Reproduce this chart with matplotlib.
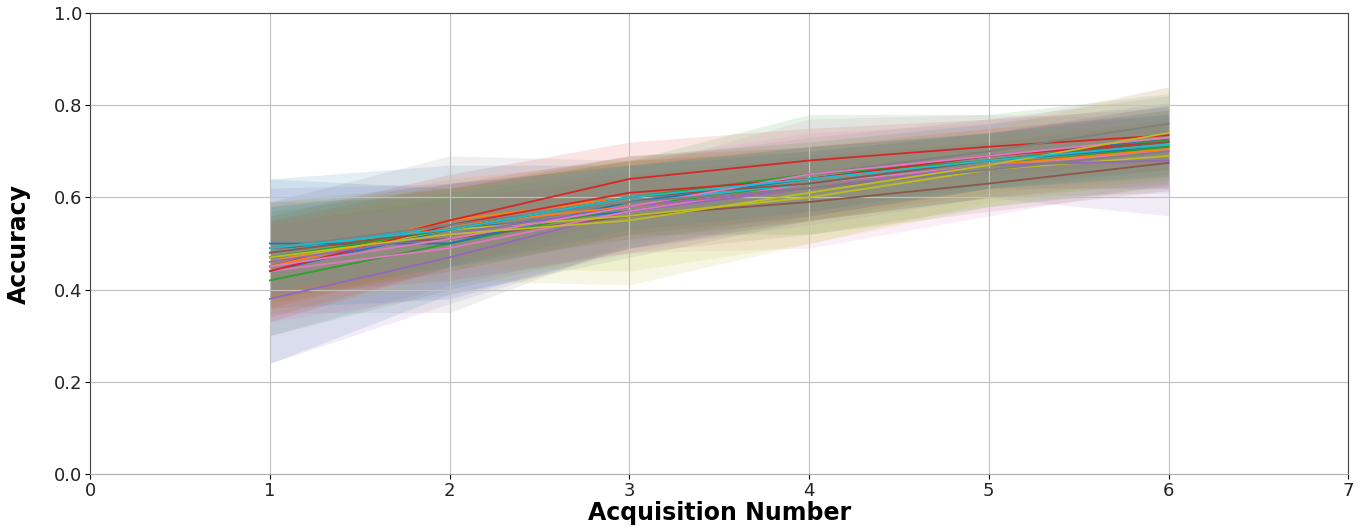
import matplotlib
matplotlib.use('Agg')
import matplotlib.pyplot as plt
import numpy as np

# acquisition steps
acq = [1, 2, 3, 4, 5, 6]

# mean accuracy per run (20 runs)
runs_mean = [
    [0.44, 0.53, 0.57, 0.63, 0.68, 0.71],
    [0.46, 0.55, 0.60, 0.64, 0.68, 0.72],
    [0.42, 0.50, 0.58, 0.63, 0.67, 0.71],
    [0.45, 0.55, 0.64, 0.68, 0.71, 0.735],
    [0.38, 0.47, 0.57, 0.62, 0.66, 0.69],
    [0.49, 0.51, 0.56, 0.59, 0.63, 0.675],
    [0.44, 0.49, 0.57, 0.63, 0.67, 0.70],
    [0.47, 0.52, 0.59, 0.65, 0.70, 0.76],
    [0.46, 0.53, 0.56, 0.60, 0.66, 0.69],
    [0.48, 0.54, 0.59, 0.63, 0.68, 0.72],
    [0.50, 0.50, 0.59, 0.64, 0.69, 0.725],
    [0.45, 0.54, 0.58, 0.62, 0.67, 0.705],
    [0.47, 0.53, 0.60, 0.65, 0.68, 0.725],
    [0.44, 0.54, 0.61, 0.64, 0.69, 0.72],
    [0.46, 0.52, 0.58, 0.62, 0.67, 0.68],
    [0.48, 0.53, 0.60, 0.63, 0.68, 0.72],
    [0.45, 0.51, 0.58, 0.65, 0.69, 0.73],
    [0.49, 0.54, 0.59, 0.62, 0.66, 0.70],
    [0.47, 0.52, 0.55, 0.61, 0.67, 0.74],
    [0.49, 0.53, 0.60, 0.64, 0.68, 0.715],
]

# std per run
runs_std = [
    [0.20, 0.14, 0.10, 0.08, 0.06, 0.09],
    [0.10, 0.09, 0.08, 0.07, 0.06, 0.06],
    [0.12, 0.10, 0.09, 0.08, 0.07, 0.08],
    [0.11, 0.10, 0.08, 0.07, 0.06, 0.06],
    [0.14, 0.10, 0.08, 0.07, 0.06, 0.08],
    [0.10, 0.09, 0.08, 0.07, 0.06, 0.06],
    [0.11, 0.10, 0.09, 0.14, 0.11, 0.07],
    [0.12, 0.17, 0.09, 0.08, 0.07, 0.06],
    [0.09, 0.08, 0.12, 0.10, 0.08, 0.07],
    [0.10, 0.09, 0.08, 0.07, 0.06, 0.06],
    [0.14, 0.12, 0.10, 0.08, 0.07, 0.08],
    [0.09, 0.08, 0.07, 0.07, 0.06, 0.06],
    [0.10, 0.09, 0.08, 0.13, 0.10, 0.10],
    [0.11, 0.09, 0.08, 0.07, 0.06, 0.06],
    [0.16, 0.11, 0.09, 0.08, 0.07, 0.12],
    [0.10, 0.09, 0.08, 0.07, 0.06, 0.07],
    [0.09, 0.08, 0.10, 0.09, 0.07, 0.11],
    [0.10, 0.09, 0.08, 0.07, 0.06, 0.06],
    [0.12, 0.10, 0.14, 0.11, 0.08, 0.10],
    [0.09, 0.08, 0.07, 0.07, 0.06, 0.07],
]

fig = plt.figure(figsize=(13.66, 5.27), dpi=100)
ax = fig.add_axes([0.066, 0.1006, 0.921, 0.8747])

colors = plt.rcParams['axes.prop_cycle'].by_key()['color']
for i in range(len(runs_mean)):
    m = np.array(runs_mean[i])
    s = np.array(runs_std[i])
    c = colors[i % 10]
    ax.plot(acq, m, color=c, lw=1.3)
    ax.fill_between(acq, m - s, m + s, color=c, alpha=0.12, lw=0)

ax.set_xlim(0, 7)
ax.set_ylim(0, 1)
ax.grid(True, color='#c0c0c0')
ax.tick_params(labelsize=13, labelcolor='#222222', pad=2)
for sp in ax.spines.values():
    sp.set_color('#444444')
ax.spines['bottom'].set_color('#b0b0b0')
ax.set_xlabel('Acquisition Number', fontsize=17, fontweight='bold')
ax.xaxis.set_label_coords(0.5, -0.058)
ax.set_ylabel('Accuracy', fontsize=17, fontweight='bold')
ax.yaxis.set_label_coords(-0.047, 0.5)

fig.savefig('out.png', dpi=100)
